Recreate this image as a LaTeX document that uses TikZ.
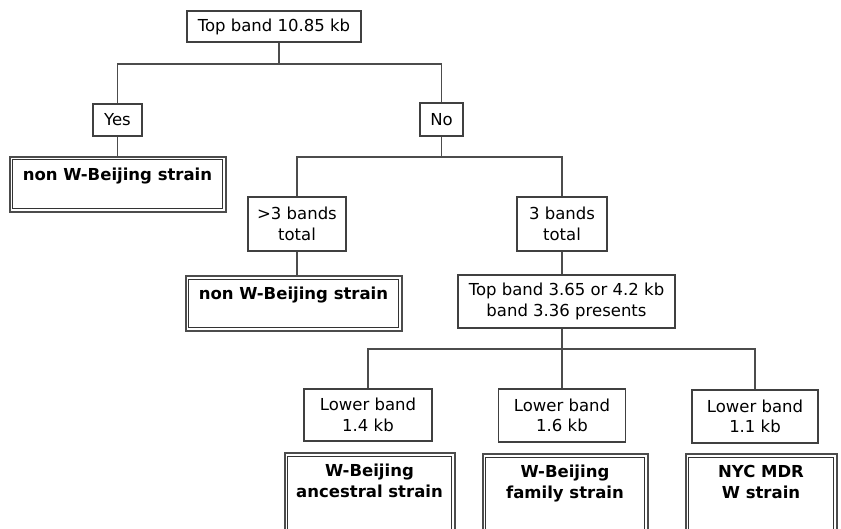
\documentclass[tikz,border=0pt]{standalone}
\usepackage{fontspec}
\setmainfont{DejaVu Sans}
\tikzstyle{test}=[rectangle,draw=black!75,line width=1.3pt,fill=white,align=center,inner sep=3pt,
font=\fontsize{16.5}{20.5}\selectfont]
\tikzstyle{result}=[rectangle,draw=black!70,line width=2pt,fill=white,
path picture={\draw[black!80,line width=0.9pt] ([shift={(3.2pt,-3.2pt)}]path picture bounding box.north west)
rectangle ([shift={(-3.2pt,3.2pt)}]path picture bounding box.south east);},
align=center,inner sep=4pt,text height=40pt,text depth=44pt,font=\fontsize{16.5}{20.5}\selectfont\bfseries]
\tikzstyle{link}=[draw=black!70,line width=1.3pt]
\usetikzlibrary{positioning}

\begin{document}
\begin{tikzpicture}[x=1pt,y=-1pt]
            \useasboundingbox (0,0) rectangle (841,529);

            % FIRST SPLIT

            \node[test, minimum width=174pt, minimum height=31pt] (top) at (274,26.5) {Top band 10.85 kb};
            \node[test, minimum width=49pt, minimum height=32pt] (yes) at (117.5,120) {Yes};
            \node[test, minimum width=43pt, minimum height=33pt] (no) at (441.5,119.5) {No};
            \node[result, below=19pt of yes, minimum width=216pt, text height=20pt, text depth=27pt] (nonwb1) {non W-Beijing strain};

            \coordinate (j1) at (279,64);
            \draw[link] (j1 |- top.south) -- (j1);
            \draw[link] (yes.north) |- (j1) -| (no.north);
            \draw[link] (yes.south) -- (nonwb1.north);

            % BAND COUNT

            \node[test, minimum width=98pt, minimum height=54pt] (more3) at (297,224) {>3 bands\\total};
            \node[test, minimum width=90pt, minimum height=54pt] (three) at (562,224) {3 bands\\total};
            \node[result, anchor=north, minimum width=216pt, text height=20pt, text depth=27pt] (nonwb2) at (293.5,275) {non W-Beijing strain};
            \node[test, minimum width=217pt, minimum height=53pt] (band336) at (566.5,301.5) {Top band 3.65 or 4.2 kb\\band 3.36 presents};

            \coordinate (j2) at (441.5,157);
            \draw[link] (no.south) -- (j2);
            \draw[link] (more3.north) |- (j2) -| (three.north);
            \draw[link] (more3.south) -- (more3.south |- nonwb2.north);
            \draw[link] (three.south) -- (three.south |- band336.north);

            % LOWER BAND

            \node[test, minimum width=128pt, minimum height=52pt] (low14) at (368,415) {Lower band\\1.4 kb};
            \node[test, minimum width=127pt, minimum height=53pt] (low16) at (562,415.5) {Lower band\\1.6 kb};
            \node[test, minimum width=126pt, minimum height=53pt] (low11) at (755,416.5) {Lower band\\1.1 kb};
            \node[result, anchor=north, minimum width=170pt] (anc) at (369.5,452) {W-Beijing\\ancestral strain};
            \node[result, anchor=north, minimum width=165pt] (fam) at (565,453) {W-Beijing\\family strain};
            \node[result, anchor=north, minimum width=151pt] (nyc) at (761,453) {NYC MDR\\W strain};

            \coordinate (j3) at (562,349);
            \draw[link] (j3 |- band336.south) -- (j3);
            \draw[link] (low14.north) |- (j3) -| (low11.north);
            \draw[link] (j3) -- (low16.north);

\end{tikzpicture}
\end{document}
